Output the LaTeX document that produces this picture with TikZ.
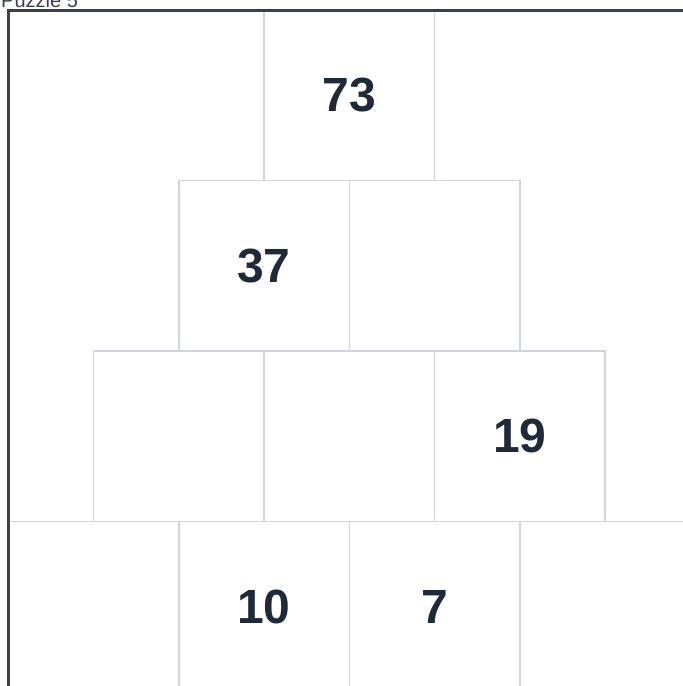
\documentclass[tikz,border=0pt]{standalone}
\usepackage{fontspec}
\setmainfont{Liberation Sans}
\usepackage{tikz}
\usetikzlibrary{positioning}
\definecolor{gridline}{HTML}{D1D5DB}
\definecolor{framedark}{HTML}{374151}
\definecolor{textmain}{HTML}{1F2937}
\newcommand{\cellnum}[1]{\textbf{#1}}

\begin{document}
\begin{tikzpicture}[x=1pt, y=-1pt,
    cellbox/.style={draw=gridline, line width=1.5pt, fill=white,
      minimum size=170.5pt, inner sep=0pt, outer sep=0pt},
    numlabel/.style={text=textmain, font=\fontsize{48}{56}\selectfont\bfseries},
    titlelabel/.style={text=framedark, font=\fontsize{20}{24}\selectfont, inner sep=0pt}]
  \useasboundingbox (0,0) rectangle (683,686);
  \clip (0,0) rectangle (683,686);
  % pyramid of cells, row r has r+1 cells
  \foreach \r in {0,...,3} {
    \foreach \i in {0,...,\r} {
      \pgfmathsetmacro\cx{349.25-85.25*\r+170.5*\i}
      \pgfmathsetmacro\cy{95.25+170.5*\r}
      \node[cellbox] (c\r\i) at (\cx,\cy) {};
    }
  }
  % given numbers
  \node[numlabel] (n73) at (c00) {\cellnum{73}};
  \node[numlabel] (n37) at (c10) {\cellnum{37}};
  \node[numlabel] (n19) at (c22) {\cellnum{19}};
  \node[numlabel] (n10) at (c31) {\cellnum{10}};
  \node[numlabel] (n7)  at (c32) {\cellnum{7}};
  % outer frame and title
  \draw[framedark, line width=3pt] (8.5,700) |- (700,10);
  \node[titlelabel, anchor=base west] (title) at (1,7.5) {Puzzle 5};
\end{tikzpicture}
\end{document}
